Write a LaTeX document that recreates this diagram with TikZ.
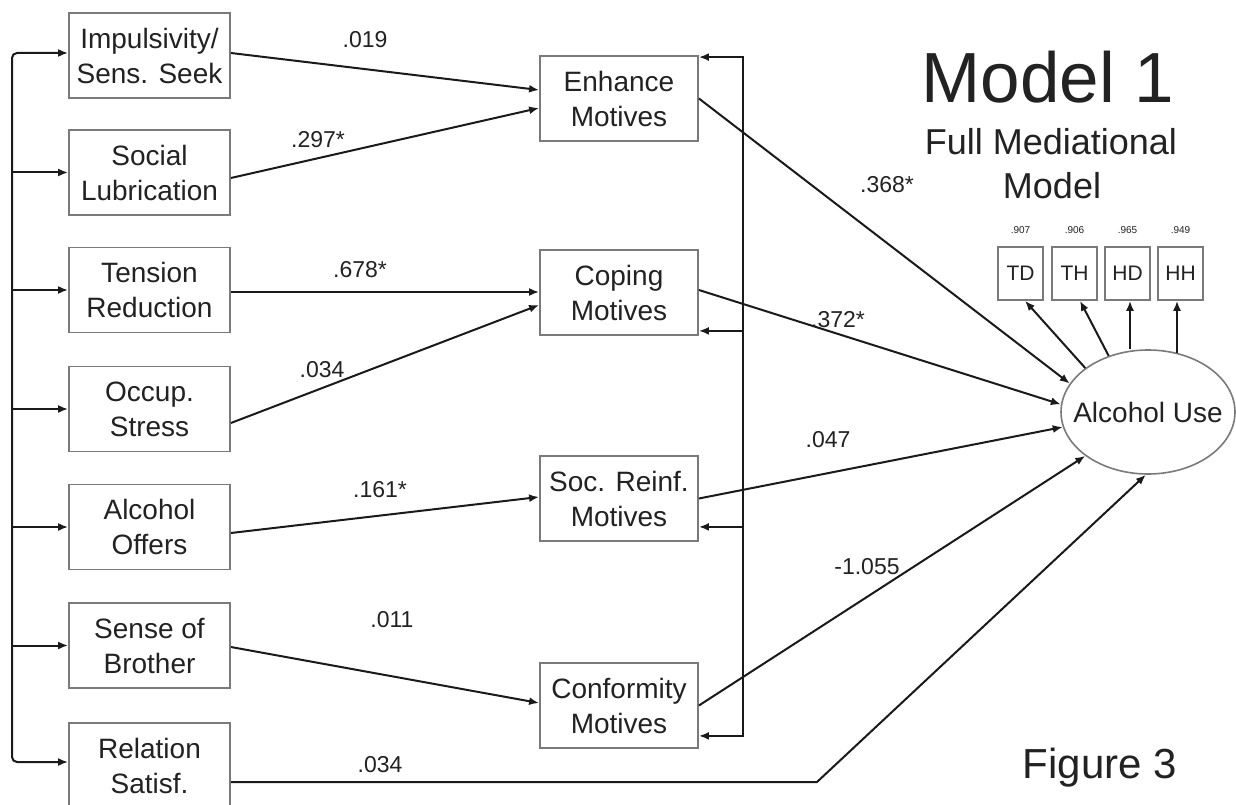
\documentclass[tikz,border=0pt]{standalone}
\usepackage{fontspec}
\setmainfont{Liberation Sans}
\usetikzlibrary{arrows.meta,shapes.geometric,calc}
\definecolor{boxgrey}{HTML}{7A7A7A}
\definecolor{linecol}{HTML}{1A1A1A}
\definecolor{textcol}{HTML}{222222}
\begin{document}
\begin{tikzpicture}[x=1pt,y=-1pt,
  every node/.style={text=textcol},
  box/.style={draw=boxgrey, line width=1.8pt, minimum width=161pt, minimum height=85pt, inner sep=0pt, align=center, font=\fontsize{28}{35}\selectfont},
  mbox/.style={box, minimum width=158pt},
  ind/.style={draw=boxgrey, line width=1.6pt, minimum width=45pt, minimum height=53pt, inner sep=0pt, font=\fontsize{21}{25}\selectfont},
  lab/.style={font=\fontsize{23}{27}\selectfont, inner sep=0pt},
  load/.style={font=\fontsize{10}{12}\selectfont, inner sep=0pt},
  arr/.style={-{Latex[length=10pt,width=8pt]}, line width=2pt, draw=linecol},
  arrboth/.style={{Latex[length=10pt,width=8pt]}-{Latex[length=10pt,width=8pt]}, line width=2pt, draw=linecol}
]
\fill[white] (0,0) rectangle (1236,805);
\useasboundingbox (0,0) rectangle (1236,805);

% left boxes
\node[box] (imp) at (149.5,55.5) {Impulsivity/\\Sens. Seek};
\node[box] (soc) at (149.5,172.5) {Social\\Lubrication};
\node[box] (ten) at (149.5,290) {Tension\\Reduction};
\node[box] (occ) at (149.5,409) {Occup.\\Stress};
\node[box] (alc) at (149.5,527) {Alcohol\\Offers};
\node[box] (sen) at (149.5,645.5) {Sense of\\Brother};
\node[box] (rel) at (149.5,765.5) {Relation\\Satisf.};

% motive boxes
\node[mbox] (enh) at (619,98.5) {Enhance\\Motives};
\node[mbox] (cop) at (619,292.5) {Coping\\Motives};
\node[mbox] (sre) at (619,498.5) {Soc. Reinf.\\Motives};
\node[mbox] (con) at (619,705.5) {Conformity\\Motives};

% outcome
\node[draw=boxgrey, line width=1.6pt, ellipse, minimum width=174pt, minimum height=124pt, inner sep=0pt] (au) at (1148,412) {};
\node[font=\fontsize{28}{35}\selectfont, inner sep=0pt] (aut) at (au.center) {Alcohol Use};

% indicators
\node[ind] (td) at (1020.5,273.5) {TD};
\node[ind] (th) at (1074.5,273.5) {TH};
\node[ind] (hd) at (1127.5,273.5) {HD};
\node[ind] (hh) at (1180.5,273.5) {HH};
\node[load] (ld1) at (1020.5,230) {.907};
\node[load] (ld2) at (1074.5,230) {.906};
\node[load] (ld3) at (1127.5,230) {.965};
\node[load] (ld4) at (1180.5,230) {.949};

% titles
\node[font=\fontsize{71}{80}\selectfont, inner sep=0pt, anchor=base] (t1) at (1048,103) {Model 1};
\node[font=\fontsize{36}{42}\selectfont, inner sep=0pt, anchor=base] (t2) at (1051,155) {Full Mediational};
\node[font=\fontsize{36}{42}\selectfont, inner sep=0pt, anchor=base] (t3) at (1052,198) {Model};
\node[font=\fontsize{42}{48}\selectfont, inner sep=0pt, anchor=base] (t4) at (1100,778) {Figure 3};

% helper coordinates
\coordinate (lb) at (12,0);
\coordinate (fb) at (743,0);
\coordinate (rc) at (817,0);

% left bracket
\coordinate (i1) at ([yshift=2.5pt]imp.west);
\coordinate (r1) at ([yshift=3.5pt]rel.west);
\draw[arrboth, rounded corners=5pt] (i1) -- (i1 -| lb) -- (r1 -| lb) -- (r1);
\draw[arr] (soc.west -| lb) -- (soc.west);
\draw[arr] (ten.west -| lb) -- (ten.west);
\draw[arr] (occ.west -| lb) -- (occ.west);
\draw[arr] (alc.west -| lb) -- (alc.west);
\draw[arr] (sen.west -| lb) -- (sen.west);

% predictors -> motives
\draw[arr] ([yshift=2.5pt]imp.east) -- ([yshift=8.5pt]enh.west);
\draw[arr] ([yshift=-5.5pt]soc.east) -- ([yshift=-9.5pt]enh.west);
\draw[arr] ([yshift=-2pt]ten.east) -- ([yshift=0.5pt]cop.west);
\draw[arr] ([yshift=-14pt]occ.east) -- ([yshift=-12.5pt]cop.west);
\draw[arr] ([yshift=-6pt]alc.east) -- ([yshift=1.5pt]sre.west);
\draw[arr] ([yshift=-1.5pt]sen.east) -- ([yshift=2.5pt]con.west);
\coordinate (rs) at ([yshift=-16.5pt]rel.east);
\draw[arr] (rs) -- (rs -| rc) -- (au.268);

% motives -> alcohol use
\draw[arr] (enh.east) -- (au.160);
\draw[arr] ([yshift=2.5pt]cop.east) -- (au.175);
\draw[arr] (sre.east) -- (au.190);
\draw[arr] (con.east) -- (au.215);

% feedback bracket
\coordinate (e1) at ([yshift=-2pt]enh.north east);
\coordinate (c1) at ([yshift=13pt]con.south east);
\draw[arrboth, line width=2.6pt] (e1) -- (e1 -| fb) -- (c1 -| fb) -- (c1);
\coordinate (p1) at ([yshift=5pt]cop.south east);
\draw[arr] (p1 -| fb) -- (p1);
\coordinate (s1) at ([yshift=15pt]sre.south east);
\draw[arr] (s1 -| fb) -- (s1);

% alcohol use -> indicators
\draw[arr] (au.145) -- ([xshift=4.5pt]td.south);
\draw[arr] (au.125) -- ([xshift=5.5pt]th.south);
\coordinate (hds) at ([xshift=2.5pt]hd.south);
\draw[arr] (hds |- au.north) -- (hds);
\coordinate (hhs) at ([xshift=-3.5pt]hh.south);
\draw[arr] ($(hhs |- au.north)+(0,3.5)$) -- (hhs);

% path labels
\node[lab] (w1) at (365,40) {.019};
\node[lab] (w2) at (318,140) {.297*};
\node[lab] (w3) at (360,270) {.678*};
\node[lab] (w4) at (322,370) {.034};
\node[lab] (w5) at (380,490) {.161*};
\node[lab] (w6) at (392,620) {.011};
\node[lab] (w7) at (380,765) {.034};
\node[lab] (w8) at (887,185) {.368*};
\node[lab] (w9) at (838,320) {.372*};
\node[lab] (w10) at (828,440) {.047};
\node[lab] (w11) at (867,567) {-1.055};
\end{tikzpicture}
\end{document}
